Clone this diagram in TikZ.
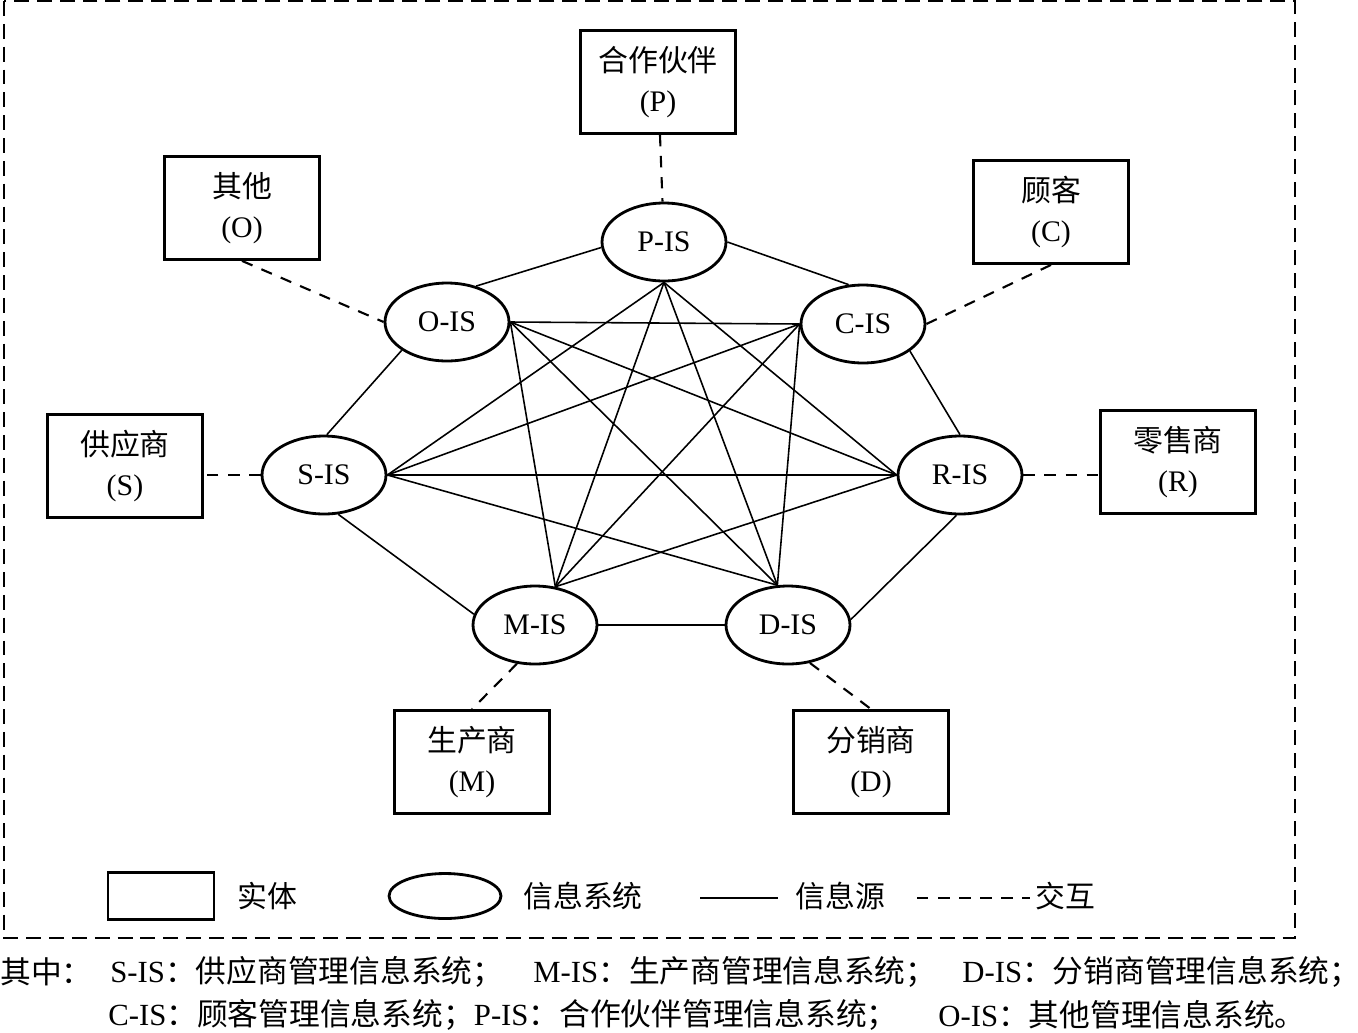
\documentclass[tikz,border=0pt]{standalone}
\usepackage{fontspec}
\setmainfont{Liberation Serif}
\newfontfamily\cjk{Noto Sans CJK SC}
\usepackage{tikz}
\usetikzlibrary{shapes.geometric}

\begin{document}
\begin{tikzpicture}[x=0.02cm, y=-0.02cm,
  is/.style = {draw, ellipse, line width=1.6pt, minimum width=2.48cm, minimum height=1.56cm, inner sep=0pt, font=\fontsize{17}{20}\selectfont},
  ent/.style = {draw, rectangle, line width=1.6pt, minimum width=3.1cm, minimum height=2.06cm, align=center, font=\fontsize{17}{23}\selectfont},
  txt/.style = {anchor=west, inner sep=0pt, font=\fontsize{17}{20}\selectfont},
  src/.style = {line width=0.9pt},
  act/.style = {line width=1.2pt, dash pattern=on 6.5pt off 5.5pt}]
\useasboundingbox (0,0) rectangle (1358,1032);
\draw[line width=1.1pt, dash pattern=on 8.5pt off 4.5pt] (4,1) rectangle (1295,938);

% information systems
\node[is] (P) at (664,242) {P-IS};
\node[is] (O) at (447,322) {O-IS};
\node[is] (C) at (863,324) {C-IS};
\node[is] (S) at (324,475) {S-IS};
\node[is] (R) at (960,475) {R-IS};
\node[is] (M) at (535,625) {M-IS};
\node[is] (D) at (788,625) {D-IS};

% entities
\node[ent] (p) at (658,82) {{\cjk 合作伙伴}\\(P)};
\node[ent] (o) at (242,208) {{\cjk 其他}\\(O)};
\node[ent] (c) at (1051,212) {{\cjk 顾客}\\(C)};
\node[ent] (s) at (125,466) {{\cjk 供应商}\\(S)};
\node[ent] (r) at (1178,462) {{\cjk 零售商}\\(R)};
\node[ent] (m) at (472,762) {{\cjk 生产商}\\(M)};
\node[ent] (d) at (871,762) {{\cjk 分销商}\\(D)};

% outer ring
\draw[src] (P.185) -- (O.51);
\draw[src] (P.0) -- (C.110);
\draw[src] (O.212) -- (S.86);
\draw[src] (C.330) -- (R.90);
\draw[src] (S.290) -- (M.170);
\draw[src] (R.265) -- (D.5);
\draw[src] (M.east) -- (D.west);

% inner lines
\draw[src] (P.south) -- (S.east);
\draw[src] (P.south) -- (M.62);
\draw[src] (P.south) -- (D.105);
\draw[src] (P.south) -- (R.west);
\draw[src] (O.east) -- (C.west);
\draw[src] (O.east) -- (R.west);
\draw[src] (O.east) -- (D.105);
\draw[src] (O.east) -- (M.62);
\draw[src] (C.west) -- (S.east);
\draw[src] (C.west) -- (M.62);
\draw[src] (C.west) -- (D.105);
\draw[src] (S.east) -- (R.west);
\draw[src] (S.east) -- (D.105);
\draw[src] (M.62) -- (R.west);

% interaction
\draw[act] (p) -- (P);
\draw[act] (o.south) -- (O.west);
\draw[act] (c.south) -- (C.east);
\draw[act] (S.west) -- (S.west -| s.east);
\draw[act] (R.east) -- (R.east -| r.west);
\draw[act] (M.-115) -- (m.north);
\draw[act] (D.-60) -- (d.north);

% legend
\node[ent, minimum width=2.12cm, minimum height=0.94cm] (lent) at (161,896) {};
\node[txt] (tent) at (237,896) {\cjk 实体};
\node[is, minimum width=2.24cm, minimum height=0.9cm] (lis) at (445,896) {};
\node[txt] (tis) at (523,896) {\cjk 信息系统};
\coordinate (ls1) at (700,898);
\coordinate (ls2) at (778,898);
\draw[src] (ls1) -- (ls2);
\node[txt] (tsrc) at (795,896) {\cjk 信息源};
\coordinate (la1) at (917,898);
\coordinate (la2) at (1030,898);
\draw[act] (la1) -- (la2);
\node[txt] (tact) at (1035,896) {\cjk 交互};

% note
\node[txt, font=\fontsize{17.5}{20}\selectfont] (n0) at (0,972) {\cjk 其中：};
\node[txt, font=\fontsize{17.5}{20}\selectfont] (n1) at (110,972) {S-IS{\cjk ：供应商管理信息系统；}};
\node[txt, font=\fontsize{17.5}{20}\selectfont] (n2) at (533,972) {M-IS{\cjk ：生产商管理信息系统；}};
\node[txt, font=\fontsize{17.5}{20}\selectfont] (n3) at (962,972) {D-IS{\cjk ：分销商管理信息系统；}};
\node[txt, font=\fontsize{17.5}{20}\selectfont] (n4) at (108,1015) {C-IS{\cjk ：顾客管理信息系统；}P-IS{\cjk ：合作伙伴管理信息系统；}};
\node[txt, font=\fontsize{17.5}{20}\selectfont] (n5) at (938,1015) {O-IS{\cjk ：其他管理信息系统。}};
\end{tikzpicture}
\end{document}
